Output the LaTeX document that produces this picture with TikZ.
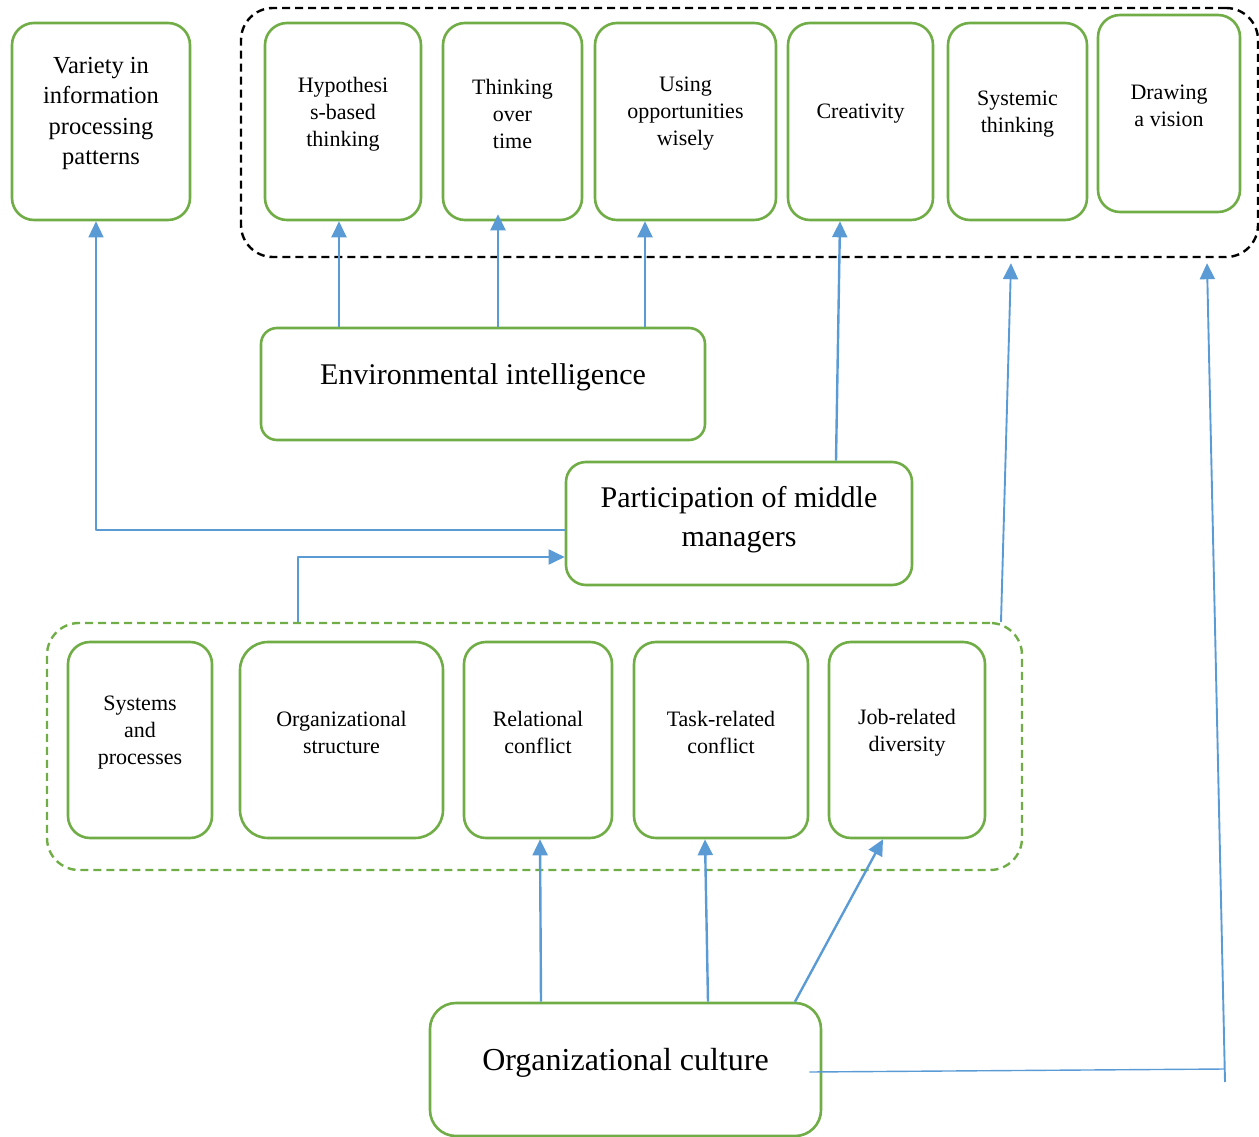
\documentclass[tikz,border=0pt]{standalone}
\usepackage{fontspec}
\setmainfont{Liberation Serif}
\usetikzlibrary{arrows.meta,positioning}

\definecolor{boxgreen}{HTML}{70AD47}
\definecolor{linkblue}{HTML}{5B9BD5}

\begin{document}
\begin{tikzpicture}[x=1pt,y=-1pt,>={Triangle[length=16pt,width=15pt]},line join=round]
	\tikzstyle{box}=[draw=boxgreen,line width=2.6pt,rounded corners=22pt,inner sep=0pt,minimum height=197pt]
	\tikzstyle{small}=[font=\fontsize{22}{27}\selectfont,align=center,yshift=7.5pt]
	\tikzstyle{mid}=[font=\fontsize{24.5}{30.5}\selectfont,align=center,yshift=8pt]
	\tikzstyle{big}=[font=\fontsize{30}{39}\selectfont,align=center,yshift=7pt]
	\tikzstyle{group}=[line width=2.4pt,rounded corners=32pt,dash pattern=on 8pt off 5pt,inner sep=0pt]
	\tikzstyle{link}=[draw=linkblue,line width=2.4pt,->]
	\tikzstyle{thinlink}=[draw=linkblue,line width=1.4pt]

	\useasboundingbox (0,0) rectangle (1259,1137);

	% containers
	\node[group,draw=black,minimum width=1017pt,minimum height=249pt] (skills) at (749.5,132.5) {};
	\node[group,draw=boxgreen,minimum width=975pt,minimum height=247pt] (factors) at (534.5,746.5) {};

	% top row
	\node[box,minimum width=178pt] (variety) at (101,121.5)
		[label={[mid]center:Variety in\\information\\processing\\patterns}] {};
	\node[box,minimum width=156pt] (hyp) at (343,121.5)
		[label={[small]center:Hypothesi\\s-based\\thinking}] {};
	\node[box,minimum width=139pt] (time) at (512.5,121.5)
		[label={[small]center:Thinking\\over\\time}] {};
	\node[box,minimum width=181pt] (oppo) at (685.5,121.5)
		[label={[small]center:Using\\opportunities\\wisely}] {};
	\node[box,minimum width=145pt] (creat) at (860.5,121.5)
		[label={[small]center:Creativity}] {};
	\node[box,minimum width=139pt] (system) at (1017.5,121.5)
		[label={[small]center:Systemic\\thinking}] {};
	\node[box,minimum width=142pt] (vision) at (1169,113.5)
		[label={[small]center:Drawing\\a vision}] {};

	% middle
	\node[box,rounded corners=16pt,minimum width=444pt,minimum height=112pt] (env) at (483,384)
		[label={[big]center:Environmental intelligence}] {};
	\node[box,rounded corners=20pt,minimum width=346pt,minimum height=123pt] (part) at (739,523.5)
		[label={[big,yshift=-3pt]center:Participation of middle\\managers}] {};

	% lower row
	\node[box,minimum width=144pt,minimum height=196pt] (sys) at (140,740)
		[label={[small]center:Systems\\and\\processes}] {};
	\node[box,rounded corners=28pt,minimum width=203pt,minimum height=196pt] (struct) at (341.5,740)
		[label={[small]center:Organizational\\structure}] {};
	\node[box,minimum width=148pt,minimum height=196pt] (rel) at (538,740)
		[label={[small]center:Relational\\conflict}] {};
	\node[box,minimum width=174pt,minimum height=196pt] (task) at (721,740)
		[label={[small]center:Task-related\\conflict}] {};
	\node[box,minimum width=156pt,minimum height=196pt] (job) at (907,740)
		[label={[small]center:Job-related\\diversity}] {};

	% bottom
	\node[box,rounded corners=26pt,minimum width=391pt,minimum height=133pt] (culture) at (625.5,1069.5)
		[label={[big,font=\fontsize{32}{39}\selectfont]center:Organizational culture}] {};

	\coordinate (turn) at (1225,1069);
	\coordinate (tail) at (1225,1082);

	% connectors
	\draw[link] ([xshift=-144pt]env.north) -- ([xshift=-4pt]hyp.south);
	\draw[link] ([xshift=15pt]env.north) -- ([xshift=-14.5pt,yshift=7pt]time.south);
	\draw[link] ([xshift=162pt]env.north) -- ([xshift=-40.5pt]oppo.south);
	\draw[link] ([xshift=97pt]part.north) -- ([xshift=-20.5pt]creat.south);
	\draw[link,line width=1.4pt] ([yshift=-6.5pt]part.west) -| ([xshift=-5pt]variety.south);
	\draw[link,line width=1.9pt] ([xshift=-236.5pt]factors.north) |- ([yshift=-33.5pt]part.west);
	\draw[link,line width=1.9pt] ([xshift=466.5pt]factors.north) -- ([xshift=261.5pt,yshift=-5pt]skills.south);
	\draw[link] ([xshift=-84.5pt]culture.north) -- ([xshift=2pt]rel.south);
	\draw[link] ([xshift=82.5pt]culture.north) -- ([xshift=-16pt]task.south);
	\draw[link] ([xshift=169.5pt]culture.north) -- ([xshift=-24pt]job.south);
	\draw[thinlink] ([xshift=-13pt,yshift=-2.5pt]culture.east) -- (turn);
	\draw[link,line width=1.9pt] (tail) -- ([xshift=457.5pt,yshift=-5pt]skills.south);
\end{tikzpicture}
\end{document}
